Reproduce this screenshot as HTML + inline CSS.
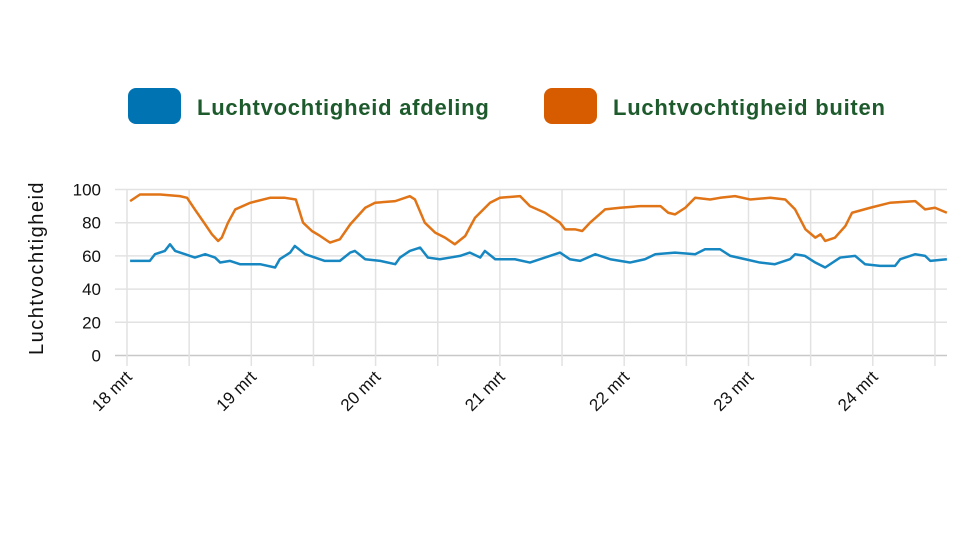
<!DOCTYPE html>
<html><head><meta charset="utf-8"><style>
body{margin:0;background:#fff;width:979px;height:551px;overflow:hidden;font-family:"Liberation Sans",sans-serif}
</style></head><body>
<svg width="979" height="551">
<g>
 <g>
  <rect x="128" y="88" width="53" height="36" rx="8" fill="#0073b3"/>
  <text x="197" y="115" font-size="22" letter-spacing="0.75" font-weight="bold" fill="#1d5a2c">Luchtvochtigheid afdeling</text>
 </g>
 <g>
  <rect x="544" y="88" width="53" height="36" rx="8" fill="#d75c00"/>
  <text x="613" y="115" font-size="22" letter-spacing="0.75" font-weight="bold" fill="#1d5a2c">Luchtvochtigheid buiten</text>
 </g>
</g>
<text transform="translate(43,268) rotate(-90)" text-anchor="middle" font-size="20" letter-spacing="1.5" fill="#111">Luchtvochtigheid</text>
<g id="grid"></g>
<g id="yticks"></g>
<g id="xticks"></g>
<g id="series"></g>
</svg>
<script>
const yTicks=[0,20,40,60,80,100];
const dayLabels=["18 mrt","19 mrt","20 mrt","21 mrt","22 mrt","23 mrt","24 mrt"];
const orangeT=[0.6,2.5,6.4,10.2,11.6,13.1,15.1,16.4,17.6,18.3,19.5,20.9,23.8,27.6,30.5,32.6,34,35.7,37.3,39.2,41.1,43.1,46,47.9,51.8,54.6,55.6,57.5,59.5,61.4,63.3,65.3,67.2,70.1,72,75.9,77.8,80.7,83.6,84.6,86.5,87.9,89.4,92.3,95.2,99.1,103,104.5,105.8,107.8,109.7,112.6,114.5,117.4,120.3,124.2,127.1,129,131,132.9,133.9,134.8,136.7,138.7,140,143.5,147.3,152.2,154.1,156,158.3];
const orangeV=[93,97,97,96,95,88,79,73,69,71,80,88,92,95,95,94,80,75,72,68,70,79,89,92,93,96,94,80,74,71,67,72,83,92,95,96,90,86,80,76,76,75,80,88,89,90,90,86,85,89,95,94,95,96,94,95,94,88,76,71,73,69,71,78,86,89,92,93,88,89,86];
const blueT=[0.6,4.4,5.4,7.3,8.3,9.3,11.2,13.1,15.1,17,18,19.9,21.8,25.7,28.6,29.5,31.5,32.4,34.4,36.3,38.2,41.1,43.1,44,46,48.9,51.8,52.7,54.6,56.6,58.1,60.4,62.4,64.3,66.2,68.2,69.1,71.1,74.9,77.8,80.7,83.6,85.5,87.5,90.4,93.3,97.1,100,102,105.8,109.7,111.6,114.5,116.5,119.4,122.2,125.1,128,129,130.9,132.9,134.8,137.7,140.6,142.5,145.4,148.3,149.3,152.2,154.1,155.1,158.3];
const blueV=[57,57,61,63,67,63,61,59,61,59,56,57,55,55,53,58,62,66,61,59,57,57,62,63,58,57,55,59,63,65,59,58,59,60,62,59,63,58,58,56,59,62,58,57,61,58,56,58,61,62,61,64,64,60,58,56,55,58,61,60,56,53,59,60,55,54,54,58,61,60,57,58];
const NS='http://www.w3.org/2000/svg';
const X0=127,DAY=124.3,Y0=355.5,YS=1.66,XR=947;
const xs=h=>X0+h/24*DAY, ys=v=>Y0-v*YS;
const grid=document.getElementById('grid'),yt=document.getElementById('yticks'),xt=document.getElementById('xticks'),ser=document.getElementById('series');
function mk(t,a,p){const e=document.createElementNS(NS,t);for(const k in a)e.setAttribute(k,a[k]);p.appendChild(e);return e;}
yTicks.forEach(v=>{
 const l=mk('line',{x1:115,x2:XR,y1:ys(v),y2:ys(v),stroke:v===0?'#c8c8c8':'#e2e2e2','stroke-width':1.5},grid);
 
 
 const t=mk('text',{x:101,y:ys(v)+6,'text-anchor':'end','font-size':17,fill:'#111'},yt);
 t.textContent=v;
 
 
});
for(let i=0;i<=13;i++){
 const x=xs(i*12); if(x>XR)break;
 const l=mk('line',{x1:x,x2:x,y1:ys(100),y2:366,stroke:'#e2e2e2','stroke-width':1.5},grid);
 
 
}
dayLabels.forEach((d,i)=>{
 const x=xs(i*24);
 const t=mk('text',{transform:`translate(${x+6},${378}) rotate(-45)`,'text-anchor':'end','font-size':17,fill:'#111'},xt);
 t.textContent=d;
 
 
});
function line(T,V,c,n){
 const p=mk('polyline',{points:T.map((h,i)=>xs(h)+','+ys(V[i])).join(' '),fill:'none',stroke:c,'stroke-width':2.5,'stroke-linejoin':'round'},ser);
 
 
}
line(orangeT,orangeV,'#e07416','line-buiten');
line(blueT,blueV,'#1787c2','line-afdeling');
</script>
</body></html>
